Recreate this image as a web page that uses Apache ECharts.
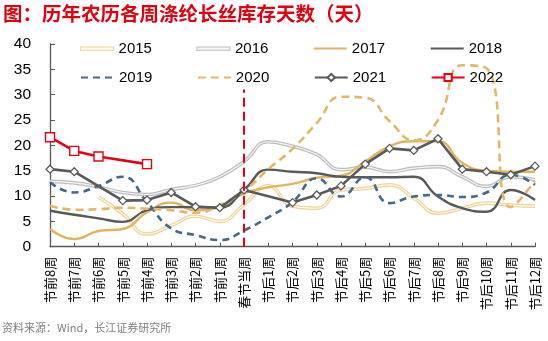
<!DOCTYPE html>
<html>
<head>
<meta charset="utf-8">
<script src="https://cdn.jsdelivr.net/npm/echarts@6/dist/echarts.min.js"></script>
<style>
  html, body { margin: 0; padding: 0; background: #fff; }
  #chart { width: 548px; height: 341px; }
</style>
</head>
<body>
<div id="chart"></div>
<script>
// Weeks counted around the lunar new year
const categories = [
  '节前8周', '节前7周', '节前6周', '节前5周', '节前4周', '节前3周', '节前2周', '节前1周',
  '春节当周',
  '节后1周', '节后2周', '节后3周', '节后4周', '节后5周', '节后6周', '节后7周', '节后8周',
  '节后9周', '节后10周', '节后11周', '节后12周'
];

// Polyester filament inventory, days
const y2015 = [null, null, 9.8, 6.5, 2.5, 4.2, 6.0, 5.0, 8.3, 12.0, 8.0, 7.6, 11.2, 11.5, 12.2, 9.6, 6.6, 7.6, 8.6, 8.2, 8.0];
const y2016 = [12.9, 12.6, 11.8, 10.7, 10.3, 11.3, 12.1, 13.8, 16.8, 20.7, 19.8, 18.2, 15.2, 15.7, 14.8, 15.5, 15.8, 13.8, 11.9, 13.8, 13.2];
const y2017 = [3.5, 1.5, 3.1, 3.5, 6.8, 8.7, 7.2, 7.8, 10.5, 11.7, 12.4, 13.6, 14.0, 16.8, 19.8, 20.8, 20.8, 16.5, 15.0, 14.8, 14.8];
const y2018 = [7.1, 6.3, 5.6, 4.9, 7.2, 7.8, 7.8, 7.7, 11.2, 15.2, 14.8, 14.5, 13.8, 13.7, 13.7, 13.8, 9.9, 7.6, 6.9, 11.2, 9.2];
const y2019 = [12.7, 10.7, 12.0, 13.8, 8.8, 3.6, 2.3, 1.3, 3.2, 5.8, 8.8, 13.5, 9.9, 13.7, 8.6, 9.9, 10.2, 9.8, 10.7, 14.2, 12.2];
const y2020 = [8.1, 7.3, 7.4, 7.7, 7.5, 7.2, 6.7, 8.2, 11.0, 15.3, 19.3, 24.4, 29.6, 29.4, 24.8, 21.0, 25.0, 35.8, 35.2, 7.8, 13.0];
const y2021 = [15.3, 14.8, null, 9.1, 9.2, 10.7, 7.9, 7.7, 11.2, null, 8.7, 10.2, 12.0, 16.3, 19.4, 19.0, 21.3, 15.3, 14.8, 14.2, 15.9];
const y2022 = [21.6, 18.9, 17.8, null, 16.3];

const yTicks = { min: 0, max: 40, interval: 5 };
const springWeek = '春节当周';
const springLineTop = 31;

const numFont = 'Liberation Sans, Arial, Noto Sans CJK SC, sans-serif';
const cjkFont = 'Noto Sans CJK SC, Liberation Sans, sans-serif';

// Legend icons: a thin hollow bar for double-stroke lines
const doubleIcon = 'path://M0,0M0,3h33v3.2h-33zM33,9';

function doubleLine(name, data, outer, inner) {
  return [
    {
      name: name, type: 'line', data: data, smooth: 0.5, symbol: 'none',
      lineStyle: { color: outer, width: 3.6 }, itemStyle: { color: outer },
      emphasis: { disabled: true }
    },
    {
      name: name + ' core', type: 'line', data: data, smooth: 0.5, symbol: 'none',
      lineStyle: { color: inner, width: 1.1 }, silent: true,
      emphasis: { disabled: true }
    }
  ];
}

const series = [].concat(
  doubleLine('2015', y2015, '#EFD39A', '#FFFBF0'),
  doubleLine('2016', y2016, '#BDBDBD', '#F7F7F7'),
  [
    {
      name: '2017', type: 'line', data: y2017, smooth: 0.5, symbol: 'none',
      lineStyle: { color: '#E2B462', width: 2.4 }, itemStyle: { color: '#E2B462' }
    },
    {
      name: '2018', type: 'line', data: y2018, smooth: 0.5, symbol: 'none',
      lineStyle: { color: '#595959', width: 2.4 }, itemStyle: { color: '#595959' }
    },
    {
      name: '2019', type: 'line', data: y2019, smooth: 0.5, symbol: 'none',
      lineStyle: { color: '#46698A', width: 2.6, type: [7, 5] }, itemStyle: { color: '#46698A' }
    },
    {
      name: '2020', type: 'line', data: y2020, smooth: 0.5, symbol: 'none',
      lineStyle: { color: '#E2B768', width: 2.6, type: [8, 5] }, itemStyle: { color: '#E2B768' }
    },
    {
      name: '2021', type: 'line', data: y2021, connectNulls: true,
      symbol: 'diamond', symbolSize: 8, showAllSymbol: true,
      lineStyle: { color: '#595959', width: 2.6 },
      itemStyle: { color: '#FFFFFF', borderColor: '#595959', borderWidth: 1.3 }
    },
    {
      name: '2022', type: 'line', data: y2022, connectNulls: true,
      symbol: 'rect', symbolSize: 9, showAllSymbol: true,
      lineStyle: { color: '#E60012', width: 2.6 },
      itemStyle: { color: '#FFFFFF', borderColor: '#E60012', borderWidth: 1.4 },
      z: 5,
      markLine: {
        silent: true, symbol: 'none', animation: false,
        label: { show: false },
        lineStyle: { color: '#E60012', width: 2, type: [9, 5] },
        data: [[{ coord: [springWeek, 0] }, { coord: [springWeek, springLineTop] }]]
      }
    }
  ]
);

// Plain line entries: hide the default marker drawn in the legend icon
const plainEntry = (name) => ({ name: name, itemStyle: { opacity: 0 } });

const legendCommon = {
  orient: 'horizontal', left: 80, padding: 0,
  itemWidth: 33, itemHeight: 9, itemGap: 44.5,
  textStyle: { fontFamily: numFont, fontSize: 15, color: '#000' },
  selectedMode: false
};

const chart = echarts.init(document.getElementById('chart'), null, { renderer: 'canvas' });
chart.setOption({
  animation: false,
  backgroundColor: '#fff',
  grid: { left: 50, right: 13, top: 44, bottom: 94.3, containLabel: false },
  legend: [
    Object.assign({}, legendCommon, {
      top: 41,
      data: [
        { name: '2015', icon: doubleIcon, itemStyle: { color: '#FFFBF0', borderColor: '#EFD39A', borderWidth: 1.1 } },
        { name: '2016', icon: doubleIcon, itemStyle: { color: '#F7F7F7', borderColor: '#BDBDBD', borderWidth: 1.1 } },
        plainEntry('2017'), plainEntry('2018')
      ]
    }),
    Object.assign({}, legendCommon, {
      top: 70,
      data: [plainEntry('2019'), plainEntry('2020'), '2021', '2022']
    })
  ],
  xAxis: {
    type: 'category', data: categories, boundaryGap: false,
    axisLine: { lineStyle: { color: '#595959', width: 1.3 } },
    axisTick: { inside: true, length: 4, lineStyle: { color: '#595959' } },
    axisLabel: {
      rotate: 90, interval: 0, margin: 10,
      fontFamily: cjkFont, fontSize: 13, color: '#000'
    },
    splitLine: { show: false }
  },
  yAxis: {
    type: 'value', min: yTicks.min, max: yTicks.max, interval: yTicks.interval,
    axisLine: { show: true, lineStyle: { color: '#595959', width: 1.3 } },
    axisTick: { show: true, inside: true, length: 5, lineStyle: { color: '#595959' } },
    axisLabel: { margin: 19, fontFamily: numFont, fontSize: 15.5, color: '#000' },
    splitLine: { show: false }
  },
  graphic: [
    {
      type: 'text', left: 3, top: 4,
      style: {
        text: '图：历年农历各周涤纶长丝库存天数（天）',
        fontFamily: cjkFont, fontWeight: 'bold', fontSize: 19.5, fill: '#E00010'
      }
    },
    {
      type: 'text', left: 2, top: 322,
      style: {
        text: '资料来源：Wind，长江证券研究所',
        fontFamily: cjkFont, fontSize: 11, fill: '#808080'
      }
    }
  ],
  series: series
});
</script>
</body>
</html>
